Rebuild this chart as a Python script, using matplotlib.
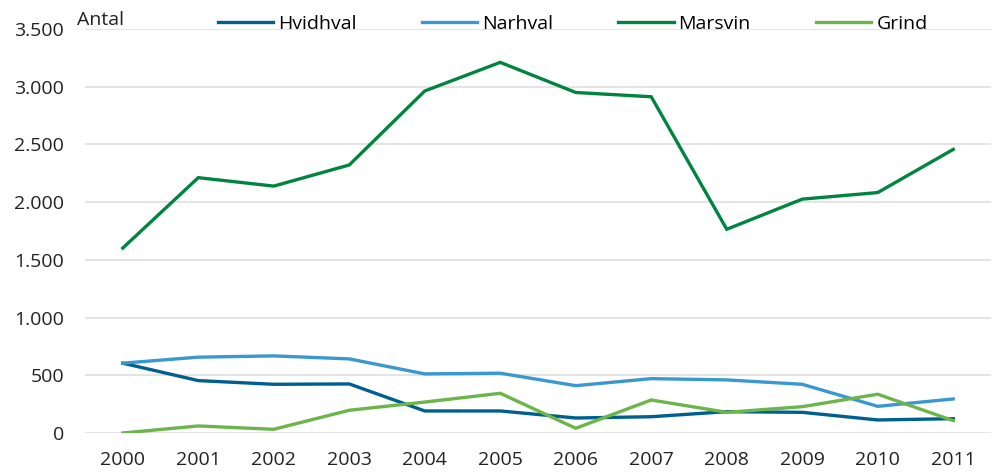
import matplotlib
matplotlib.use("Agg")
import matplotlib.pyplot as plt

years = ["2000", "2001", "2002", "2003", "2004", "2005", "2006", "2007", "2008", "2009", "2010", "2011"]
hvidhval = [605, 454, 422, 425, 191, 191, 130, 141, 185, 179, 113, 124]
narhval = [605, 657, 668, 642, 512, 518, 410, 471, 460, 422, 231, 295]
marsvin = [1602, 2212, 2139, 2322, 2963, 3211, 2950, 2913, 1765, 2026, 2083, 2457]
grind = [0, 61, 32, 197, 268, 344, 41, 286, 179, 228, 336, 107]

series = [("Hvidhval", hvidhval, "#005f8e"),
          ("Narhval", narhval, "#3a98d0"),
          ("Marsvin", marsvin, "#00843f"),
          ("Grind", grind, "#6bb54a")]

plt.rcParams['font.family'] = ['Open Sans', 'DejaVu Sans']
FS = 14

fig = plt.figure(figsize=(9.97, 4.75), dpi=100)
ax = fig.add_axes([85/997, 1 - 433/475, (991-85)/997, (433-29)/475])

x = list(range(len(years)))
for name, vals, col in series:
    ax.plot(x, vals, color=col, lw=2.4, label=name, solid_joinstyle='miter')

ax.set_xlim(-0.5, len(years) - 0.5)
ax.set_ylim(0, 3500)
ax.set_yticks(range(0, 3501, 500))
ax.set_yticklabels([f"{v:,}".replace(",", ".") for v in range(0, 3501, 500)])
ax.set_xticks(x)
ax.set_xticklabels(years)
ax.grid(axis='y', color='#e4e4e4', lw=1.4)
ax.set_axisbelow(True)
for s in ax.spines.values():
    s.set_visible(False)
ax.tick_params(length=0, labelsize=FS, colors='#222222')
ax.tick_params(axis='x', pad=13)
ax.tick_params(axis='y', pad=15)

fig.text(77/997, 1 - 25/475, "Antal", fontsize=FS, color='#222222', va='baseline', ha='left')

leg = ax.legend(loc='center left', ncol=4, frameon=False,
                fontsize=FS, handlelength=2.85, handletextpad=0.25, columnspacing=3.35,
                borderaxespad=0, borderpad=0)
leg.set_bbox_to_anchor((218/997, 1 - 24/475), transform=fig.transFigure)

fig.savefig("out.png", dpi=100)
